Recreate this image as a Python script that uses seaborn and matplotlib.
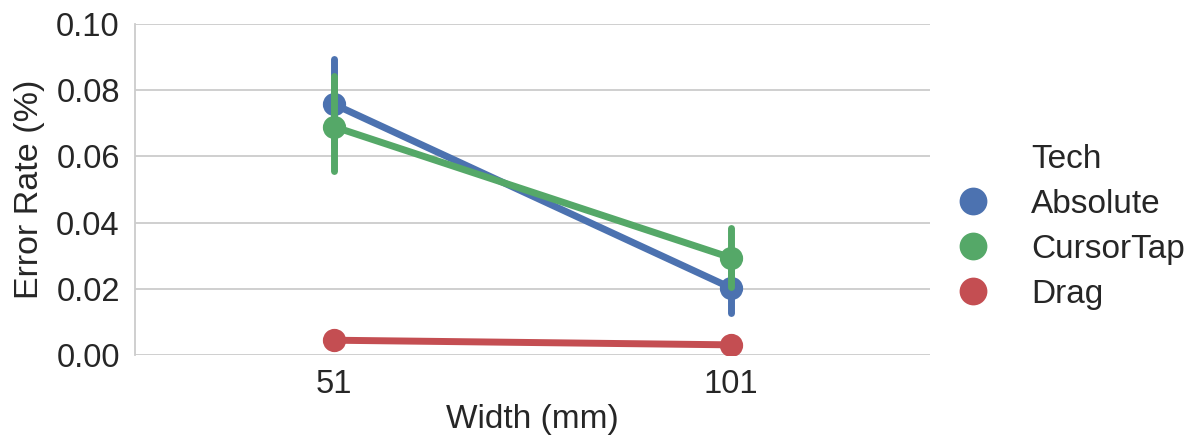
import matplotlib
matplotlib.use("Agg")
import matplotlib.pyplot as plt
import seaborn as sns
import pandas as pd

# Data (mean and CI bounds per Tech x Width)
widths = ["51", "101"]
techs = ["Absolute", "CursorTap", "Drag"]
mean_vals = {
    "Absolute": [0.0758, 0.0203],
    "CursorTap": [0.0690, 0.0294],
    "Drag": [0.0045, 0.0031],
}
ci_low = {
    "Absolute": [0.0630, 0.0128],
    "CursorTap": [0.0556, 0.0205],
    "Drag": [0.0040, 0.0027],
}
ci_high = {
    "Absolute": [0.0895, 0.0280],
    "CursorTap": [0.0843, 0.0384],
    "Drag": [0.0050, 0.0035],
}
colors = ["#4C72B0", "#55A868", "#C44E52"]

rows = []
for t in techs:
    for i, w in enumerate(widths):
        for v in (ci_low[t][i], mean_vals[t][i], ci_high[t][i]):
            rows.append({"Tech": t, "Width (mm)": w, "Error Rate (%)": v})
df = pd.DataFrame(rows)

sns.set_theme(style="whitegrid")
plt.rcParams["font.family"] = ["Liberation Sans", "DejaVu Sans"]
plt.rcParams["text.color"] = "#262626"
plt.rcParams["axes.labelcolor"] = "#262626"
plt.rcParams["xtick.color"] = "#262626"
plt.rcParams["ytick.color"] = "#262626"

fig = plt.figure(figsize=(11.95, 4.45), dpi=100)
ax = fig.add_axes([0.113, 0.202, 0.665, 0.744])

sns.pointplot(data=df, x="Width (mm)", y="Error Rate (%)", hue="Tech",
              order=widths, hue_order=techs, palette=colors,
              estimator="median", errorbar=("pi", 100),
              linewidth=5, markersize=13, err_kws={"linewidth": 5},
              ax=ax)

ax.set_ylim(0, 0.10)
ax.set_yticks([0.0, 0.02, 0.04, 0.06, 0.08, 0.10])
ax.set_yticklabels(["0.00", "0.02", "0.04", "0.06", "0.08", "0.10"])
ax.tick_params(axis="y", labelsize=23.5, length=0, pad=11)
ax.tick_params(axis="x", labelsize=23.5, length=0, pad=10)
ax.set_xlabel("Width (mm)", fontsize=24, labelpad=3)
ax.set_ylabel("Error Rate (%)", fontsize=24.5, labelpad=8)
ax.grid(axis="x", visible=False)
ax.grid(axis="y", color="#cccccc", linewidth=1.3)
for s in ["top", "right", "bottom"]:
    ax.spines[s].set_visible(False)
ax.spines["left"].set_color("#cccccc")
ax.spines["left"].set_linewidth(1.3)

handles, labels = ax.get_legend_handles_labels()
ax.legend_.remove()
leg = fig.legend(handles, labels, title="Tech", loc="center left",
                 bbox_to_anchor=(0.768, 0.49),
                 frameon=False, fontsize=24, title_fontsize=24,
                 handletextpad=1.0, labelspacing=0.42, markerscale=1.25,
                 handlelength=1.5)
for h in leg.legend_handles:
    h.set_linestyle("")

fig.savefig("out.png", dpi=100)
